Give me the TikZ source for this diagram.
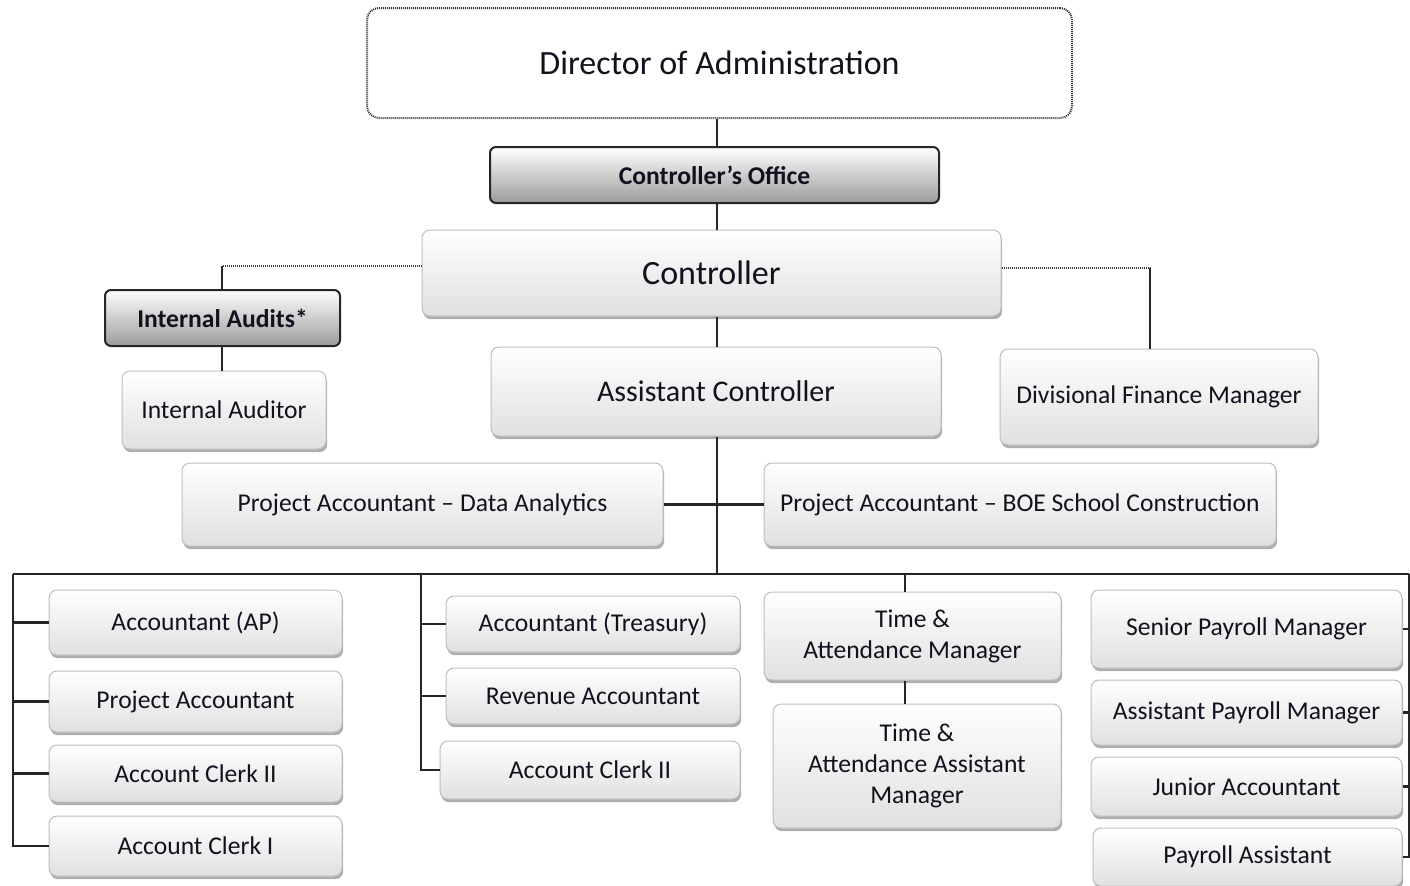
\documentclass[tikz,border=0pt]{standalone}
\usepackage{fontspec}
\setmainfont{Carlito}
\usetikzlibrary{shadows}
\definecolor{txt}{RGB}{18,18,30}
\definecolor{edge}{RGB}{190,190,190}
\definecolor{boxbot}{RGB}{224,224,224}
\definecolor{gbot}{RGB}{155,155,155}
\begin{document}
\begin{tikzpicture}[x=0.5pt,y=-0.5pt,
  w/.style={minimum width=#1*0.5pt},
  h/.style={minimum height=#1*0.5pt},
  small/.style={font=\fontsize{12.8}{15.6}\selectfont},
  big/.style={font=\fontsize{17}{20}\selectfont},
  mid/.style={font=\fontsize{15}{18}\selectfont},
  box/.style={rectangle, rounded corners=4pt, draw=edge, line width=0.5pt,
    top color=white, bottom color=boxbot, inner sep=0pt, align=center, text=txt,
    drop shadow={shadow xshift=0.6pt, shadow yshift=-1.6pt, fill=black!45, opacity=0.7},
    small},
  gbox/.style={rectangle, rounded corners=3pt, draw=black!85, line width=1pt,
    top color=white, bottom color=gbot, inner sep=0pt, align=center, text=txt,
    font=\bfseries\fontsize{12.8}{15.6}\selectfont},
  dirbox/.style={rectangle, rounded corners=6pt, draw=black!80, line width=1pt,
    dash pattern=on 0.5pt off 0.5pt, fill=white, inner sep=0pt, text=txt, big},
  conn/.style={draw=black!85, line width=1.05pt},
  dotline/.style={draw=black!75, line width=1pt, dash pattern=on 0.5pt off 0.5pt}
]
\useasboundingbox (0,0) rectangle (1410,885);
\fill[white] (0,0) rectangle (1410,885);

% nodes
\node[dirbox, w=705, h=110] (dir) at (719.5,63) {Director of Administration};
\node[gbox, w=449, h=56] (co) at (714.5,175) {Controller’s Office};
\node[box, big, w=579, h=86] (ctrl) at (711.5,273) {Controller};
\node[gbox, w=235, h=56] (ia) at (222.5,318) {Internal Audits*};
\node[box, w=204, h=78] (iaud) at (224,410) {Internal Auditor};
\node[box, mid, w=450, h=89] (ac) at (716,391.5) {Assistant Controller};
\node[box, w=318, h=96] (dfm) at (1159,397) {Divisional Finance Manager};
\node[box, w=481, h=83] (pada) at (422.5,504.5) {Project Accountant – Data Analytics};
\node[box, w=512, h=83] (paboe) at (1020,504.5) {Project Accountant – BOE School Construction};

\node[box, w=293, h=65] (ap) at (195.5,622.5) {Accountant (AP)};
\node[box, w=293, h=61] (pa) at (195.5,701.5) {Project Accountant};
\node[box, w=293, h=57] (acII) at (195.5,773.5) {Account Clerk II};
\node[box, w=293, h=60] (acI) at (195.5,846) {Account Clerk I};

\node[box, w=294, h=56] (tre) at (593,624) {Accountant (Treasury)};
\node[box, w=294, h=56] (rev) at (593,696) {Revenue Accountant};
\node[box, w=300, h=58] (aclII) at (590,770) {Account Clerk II};

\node[box, w=297, h=88] (tam) at (912.5,636) {Time \&\\Attendance Manager};
\node[box, w=288, h=124] (taam) at (917,766) {Time \&\\Attendance Assistant\\Manager};

\node[box, w=311, h=78] (spm) at (1246.5,629) {Senior Payroll Manager};
\node[box, w=311, h=65] (apm) at (1246.5,712.5) {Assistant Payroll Manager};
\node[box, w=311, h=59] (ja) at (1246.5,786.5) {Junior Accountant};
\node[box, w=309, h=58] (pas) at (1247.5,857) {Payroll Assistant};

% coordinates
\coordinate (spine) at (717,574);
\coordinate (busL) at (13,574);
\coordinate (busR) at (1409,574);
\coordinate (c2) at (421,574);
\coordinate (tc) at (905,574);
\coordinate (iaX) at (222,266);
\coordinate (dfX) at (1150,268);

% connectors
\draw[conn] (dir.south -| spine) -- (co.north -| spine);
\draw[conn] (co.south -| spine) -- (ctrl.north -| spine);
\draw[conn] (ctrl.south -| spine) -- (ac.north -| spine);
\draw[conn] (ac.south -| spine) -- (spine);
\draw[conn] (pada.east) -- (paboe.west);
\draw[conn] (busL) -- (busR);

\draw[dotline] (ctrl.west |- iaX) -- (iaX);
\draw[conn] (iaX) -- (iaX |- ia.north);
\draw[conn] (ia.south -| iaX) -- (iaud.north -| iaX);
\draw[dotline] (ctrl.east |- dfX) -- (dfX);
\draw[conn] (dfX) -- (dfX |- dfm.north);

\draw[conn] (busL) |- (acI.west);
\draw[conn] (ap.west -| busL) -- (ap.west);
\draw[conn] (pa.west -| busL) -- (pa.west);
\draw[conn] (acII.west -| busL) -- (acII.west);

\draw[conn] (c2) |- (aclII.west);
\draw[conn] (tre.west -| c2) -- (tre.west);
\draw[conn] (rev.west -| c2) -- (rev.west);

\draw[conn] (tc) -- (tc |- tam.north);
\draw[conn] (tam.south -| tc) -- (taam.north -| tc);

\draw[conn] (busR) |- (pas.east);
\draw[conn] (spm.east -| busR) -- (spm.east);
\draw[conn] (apm.east -| busR) -- (apm.east);
\draw[conn] (ja.east -| busR) -- (ja.east);
\end{tikzpicture}
\end{document}
